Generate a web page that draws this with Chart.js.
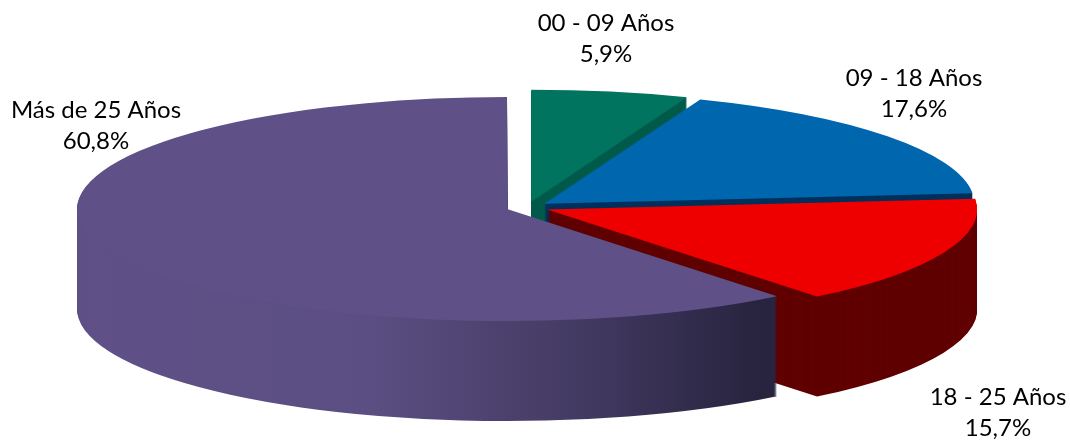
<!DOCTYPE html>
<html>
<head>
<meta charset="utf-8">
<style>
html,body{margin:0;padding:0;background:#fff}
#wrap{width:1070px;height:442px;position:relative}
</style>
<script src="https://cdn.jsdelivr.net/npm/chart.js@4/dist/chart.umd.js"></script>
</head>
<body>
<div id="wrap"><canvas id="c" width="1070" height="442"></canvas></div>
<script>
const categories = ['00 - 09 Años', '09 - 18 Años', '18 - 25 Años', 'Más de 25 Años'];
const values = [5.9, 17.6, 15.7, 60.8];
const percentLabels = ['5,9%', '17,6%', '15,7%', '60,8%'];
const topColors = ['#00745f', '#0066ae', '#ee0000', '#5f5187'];
const wallColors = ['#005a4a', '#00305c', '#600000', null];

const view = { cx: 527.3, cy: 207.2, rx: 430, ry: 112, depth: 100, explode: 0.05 };
const labelCentres = [[606, 23], [914, 78], [998, 397], [96, 110]];
const labelFont = '24px Lato, Carlito, sans-serif';
const lineGap = 31.5;

const pie3d = {
  id: 'pie3d',
  beforeDatasetsDraw(chart) {
    const ctx = chart.ctx;
    const arcs = chart.getDatasetMeta(0).data;
    const r = arcs[0].outerRadius;
    const sx = view.rx / r, sy = view.ry / r;
    const ox = arcs[0].x, oy = arcs[0].y;
    const toLocal = px => (px - view.cx) / sx + ox;

    const wallGradient = ctx.createLinearGradient(toLocal(77), 0, toLocal(776), 0);
    wallGradient.addColorStop(0, '#5a4d80');
    wallGradient.addColorStop(0.05, '#5f5187');
    wallGradient.addColorStop(0.45, '#5b4e82');
    wallGradient.addColorStop(0.75, '#433a62');
    wallGradient.addColorStop(1, '#28243f');

    arcs.forEach((arc, i) => {
      const base = arc.options;
      const mid = (arc.startAngle + arc.endAngle) / 2;
      const paint = (shift, color) => {
        ctx.save();
        ctx.translate(view.cx, view.cy + shift);
        ctx.scale(sx, sy);
        ctx.translate(-ox, -oy);
        ctx.translate(Math.cos(mid) * view.explode * r, Math.sin(mid) * view.explode * r);
        arc.options = Object.assign({}, base, { backgroundColor: color, borderColor: color });
        arc.draw(ctx);
        ctx.restore();
      };
      const wall = wallColors[i] || wallGradient;
      for (let d = view.depth; d > 0; d--) paint(d, wall);
      paint(0, topColors[i]);
      arc.options = base;
    });
    return false;
  },
  afterDraw(chart) {
    const ctx = chart.ctx;
    ctx.save();
    ctx.fillStyle = '#000';
    ctx.font = labelFont;
    ctx.textAlign = 'center';
    ctx.textBaseline = 'middle';
    categories.forEach((name, i) => {
      const [x, y] = labelCentres[i];
      ctx.fillText(name, x, y);
      ctx.fillText(percentLabels[i], x, y + lineGap);
    });
    ctx.restore();
  }
};

new Chart(document.getElementById('c'), {
  type: 'pie',
  data: {
    labels: categories,
    datasets: [{
      data: values,
      backgroundColor: topColors,
      borderWidth: 0
    }]
  },
  options: {
    responsive: false,
    animation: false,
    layout: { padding: 0 },
    plugins: { legend: { display: false }, tooltip: { enabled: false } }
  },
  plugins: [pie3d]
});
</script>
</body>
</html>
